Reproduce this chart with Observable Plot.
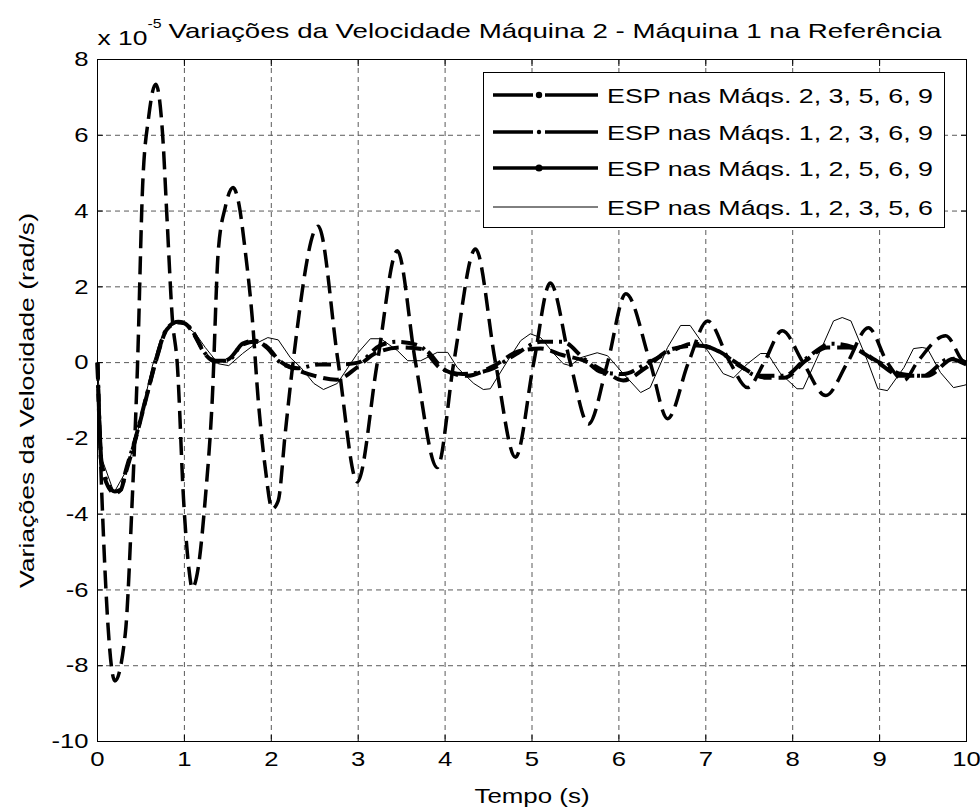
<!DOCTYPE html>
<html><head><meta charset="utf-8">
<script src="https://cdn.jsdelivr.net/npm/d3@7"></script>
<script src="https://cdn.jsdelivr.net/npm/@observablehq/plot@0.6"></script>
<style>
body{margin:0;background:#fff;}
#wrap{position:relative;width:980px;height:811px;}
#legend{position:absolute;left:483px;top:72px;}
</style></head><body><div id="wrap"></div>
<script>
// ---- text ----
const titleMain = ["Variações da Velocidade Máquina 2 - Máquina 1 na Referência"];
const titleMult = ["x 10"];
const titleExp = ["-5"];
const xLabel = "Tempo (s)";
const yLabel = "Variações da Velocidade (rad/s)";
const legendLabels = [
  "ESP nas Máqs. 2, 3, 5, 6, 9",
  "ESP nas Máqs. 1, 2, 3, 6, 9",
  "ESP nas Máqs. 1, 2, 5, 6, 9",
  "ESP nas Máqs. 1, 2, 3, 5, 6"
];
const xTicks = [0,1,2,3,4,5,6,7,8,9,10];
const yTicks = [-10,-8,-6,-4,-2,0,2,4,6,8];

// ---- series (values in units of 1e-5 rad/s) ----
const s1t = [0,0.05,0.2,0.32,0.4,0.46,0.52,0.59,0.67,0.75,0.8,0.86,0.92,0.99,1.05,1.09,1.16,1.24,1.32,1.39,1.47,1.56,1.62,1.7,1.78,1.85,1.93,2.01,2.08,2.16,2.25,2.54,2.77,2.99,3.22,3.45,3.66,3.91,4.1,4.35,4.58,4.81,5.02,5.21,5.44,5.65,5.87,6.08,6.36,6.56,6.8,7.02,7.28,7.48,7.67,7.88,8.12,8.38,8.63,8.87,9.09,9.28,9.43,9.76,9.97,10];
const s1v = [0,-3.5,-8.4,-7.15,-3.6,-0.1,4.7,6.5,7.35,6.0,3.8,1.2,-0.1,-3.6,-5.4,-5.95,-5.4,-3.6,-1.0,2.95,4.1,4.62,4.27,2.95,1.2,-1.0,-2.77,-3.86,-3.64,-1.87,0,3.6,0,-3.15,0,2.95,0,-2.77,0,3.0,0,-2.5,0,2.1,0,-1.62,0,1.82,0,-1.48,0,1.1,0,-0.66,0,0.84,0,-0.87,0,0.92,0,-0.47,0,0.71,0,-0.05];

const s2t = [0,0.05,0.2,0.27,0.32,0.44,0.57,0.67,0.8,0.93,1.0,1.09,1.24,1.36,1.5,1.67,1.82,1.96,2.08,2.3,2.55,2.8,3.0,3.25,3.45,3.7,3.95,4.2,4.5,4.8,5.1,5.35,5.6,5.8,6.05,6.3,6.6,6.85,7.1,7.35,7.6,7.9,8.15,8.45,8.7,9.0,9.25,9.5,9.8,10];
const s2v = [0,-2.7,-3.4,-3.35,-2.9,-1.97,-0.82,0.05,0.9,1.08,1.05,0.84,0.24,0.05,0.05,0.5,0.58,0.37,0.05,-0.15,-0.05,-0.05,0.0,0.45,0.55,0.45,-0.15,-0.3,-0.2,0.2,0.55,0.55,0.1,-0.25,-0.3,-0.05,0.3,0.5,0.35,0.0,-0.35,-0.35,0.1,0.5,0.4,0.0,-0.3,-0.35,0.1,-0.05];

const s3t = [0,0.05,0.2,0.27,0.32,0.44,0.57,0.67,0.8,0.93,1.0,1.09,1.24,1.36,1.5,1.67,1.82,1.96,2.08,2.3,2.5,2.75,3.0,3.2,3.5,3.75,4.0,4.25,4.55,4.85,5.1,5.35,5.6,5.85,6.05,6.3,6.6,6.9,7.15,7.4,7.7,7.9,8.15,8.4,8.65,8.95,9.25,9.55,9.85,10];
const s3v = [0,-2.8,-3.45,-3.35,-2.95,-2.0,-0.85,0.02,0.88,1.06,1.04,0.82,0.22,0.03,0.08,0.48,0.56,0.4,0.08,-0.2,-0.35,-0.45,-0.1,0.25,0.4,0.35,-0.2,-0.35,-0.1,0.3,0.37,0.2,0.05,-0.25,-0.47,-0.15,0.35,0.45,0.3,-0.1,-0.4,-0.4,0.05,0.4,0.4,0.05,-0.35,-0.35,0.1,0.0];

const s4t = [0,0.06,0.19,0.32,0.44,0.55,0.63,0.72,0.8,0.92,1.0,1.13,1.24,1.39,1.51,1.67,1.82,1.96,2.08,2.22,2.34,2.49,2.6,2.76,2.99,3.14,3.26,3.45,3.57,3.72,3.91,4.03,4.14,4.33,4.44,4.52,4.72,4.87,4.98,5.1,5.25,5.36,5.44,5.56,5.75,5.87,6.05,6.25,6.36,6.56,6.71,6.82,7.02,7.2,7.32,7.48,7.63,7.71,7.86,8.05,8.12,8.32,8.47,8.57,8.67,8.86,8.98,9.09,9.28,9.39,9.49,9.55,9.7,9.85,9.97,10];
const s4v = [0,-2.6,-3.43,-2.9,-2.05,-0.92,-0.1,0.58,0.9,1.1,1.0,0.76,0.4,-0.03,-0.08,0.24,0.5,0.66,0.6,0.13,-0.13,-0.55,-0.71,-0.55,0.24,0.63,0.63,0.32,0.05,0.05,0.27,0.27,-0.13,-0.55,-0.71,-0.69,0.05,0.58,0.76,0.66,0.24,-0.03,-0.08,0.13,0.26,0.18,-0.29,-0.79,-0.66,0.4,0.98,0.98,0.32,-0.29,-0.4,-0.03,0.24,0.24,-0.29,-0.69,-0.69,0.32,1.1,1.19,1.1,0.05,-0.69,-0.74,-0.13,0.37,0.4,0.37,-0.26,-0.66,-0.6,-0.58];

const toRows = (ts, vs) => ts.map((t, i) => ({t, v: vs[i]}));
const r1 = toRows(s1t, s1v), r2 = toRows(s2t, s2v), r3 = toRows(s3t, s3v), r4 = toRows(s4t, s4v);

const FONT = "'Liberation Sans', Arial, Helvetica, sans-serif";
const gridStyle = {stroke: "#5a5a5a", strokeOpacity: 1, strokeWidth: 1, strokeDasharray: "5,4"};
const noText = () => "";
const plain = d => String(d);

const chart = Plot.plot({
  width: 980, height: 811,
  marginLeft: 97, marginRight: 14, marginTop: 59, marginBottom: 70,
  style: {fontFamily: FONT, fontSize: "21px", background: "white", color: "black", overflow: "visible"},
  x: {domain: [0, 10], label: null},
  y: {domain: [-10, 8], label: null},
  marks: [
    Plot.gridX(xTicks, gridStyle),
    Plot.gridY(yTicks, gridStyle),
    Plot.line(r4, {x: "t", y: "v", stroke: "black", strokeWidth: 1}),
    Plot.line(r3, {x: "t", y: "v", stroke: "black", strokeWidth: 4, strokeDasharray: "16,7", strokeLinecap: "butt", curve: "monotone-x"}),
    Plot.line(r2, {x: "t", y: "v", stroke: "black", strokeWidth: 4, strokeDasharray: "16,6,3,6", strokeLinecap: "butt", curve: "monotone-x"}),
    Plot.line(r1, {x: "t", y: "v", stroke: "black", strokeWidth: 3.5, strokeDasharray: "18,8", strokeLinecap: "butt", curve: "monotone-x"}),
    Plot.frame({stroke: "black", strokeWidth: 1}),
    Plot.axisX(xTicks, {anchor: "bottom", tickSize: 0, tickPadding: 10, fontSize: 21, tickFormat: plain, label: xLabel, labelAnchor: "center", labelArrow: "none", labelOffset: 61}),
    Plot.axisY(yTicks, {anchor: "left", tickSize: 0, tickPadding: 9, fontSize: 21, tickFormat: plain, label: yLabel, labelAnchor: "center", labelArrow: "none", labelOffset: 78}),
    Plot.axisX(xTicks, {anchor: "bottom", tickSize: -6, tickFormat: noText, label: null}),
    Plot.axisX(xTicks, {anchor: "top", tickSize: -6, tickFormat: noText, label: null}),
    Plot.axisY(yTicks, {anchor: "left", tickSize: -6, tickFormat: noText, label: null}),
    Plot.axisY(yTicks, {anchor: "right", tickSize: -6, tickFormat: noText, label: null}),
    Plot.text(titleMult, {frameAnchor: "top-left", dx: 0, dy: -15, lineAnchor: "bottom", textAnchor: "start", fontSize: 21}),
    Plot.text(titleExp, {frameAnchor: "top-left", dx: 50, dy: -32, lineAnchor: "bottom", textAnchor: "start", fontSize: 13}),
    Plot.text(titleMain, {frameAnchor: "top-left", dx: 71, dy: -22, lineAnchor: "bottom", textAnchor: "start", fontSize: 21})
  ]
});

const wrap = document.getElementById("wrap");
wrap.appendChild(chart);

// ---- legend ----
const lw = 462, lh = 156;
const lsvg = d3.select(wrap).append("svg").attr("id", "legend").attr("width", lw).attr("height", lh)
  .style("font-family", FONT).style("font-size", "21px");
lsvg.append("rect").attr("x", 0.5).attr("y", 0.5).attr("width", lw - 1).attr("height", lh - 1)
  .attr("fill", "white").attr("stroke", "black").attr("stroke-width", 1);
const rowY = [23, 60, 96, 135];
const styles = [
  {w: 3.5, dot: 3.2, seg: [[10, 50], [62, 115]]},
  {w: 3.5, dot: 2.2, seg: [[10, 50], [62, 115]]},
  {w: 3.5, dot: 3.6, seg: [[10, 54], [58, 115]]},
  {w: 1, dot: 0, seg: [[10, 115]]}
];
legendLabels.forEach((lab, i) => {
  const g = lsvg.append("g");
  const st = styles[i];
  st.seg.forEach(([a, b]) => g.append("line").attr("x1", a).attr("x2", b).attr("y1", rowY[i]).attr("y2", rowY[i])
    .attr("stroke", "black").attr("stroke-width", st.w));
  if (st.dot) g.append("circle").attr("cx", 56).attr("cy", rowY[i]).attr("r", st.dot).attr("fill", "black");
  g.append("text").attr("x", 124).attr("y", rowY[i]).attr("dy", "0.36em").text(lab);
});

// text in the reference is wider than Arial metrics: fit known widths
const fixed = new Map([[titleMain[0], 773], [xLabel, 115], [yLabel, 375], [titleMult[0], 50]]);
legendLabels.forEach(l => fixed.set(l, 326));
wrap.querySelectorAll("text").forEach(t => {
  const w = t.getComputedTextLength();
  if (w > 0) {
    const target = fixed.has(t.textContent) ? fixed.get(t.textContent) : w * 1.22;
    t.setAttribute("textLength", target.toFixed(1));
    t.setAttribute("lengthAdjust", "spacingAndGlyphs");
  }
});
</script></body></html>
